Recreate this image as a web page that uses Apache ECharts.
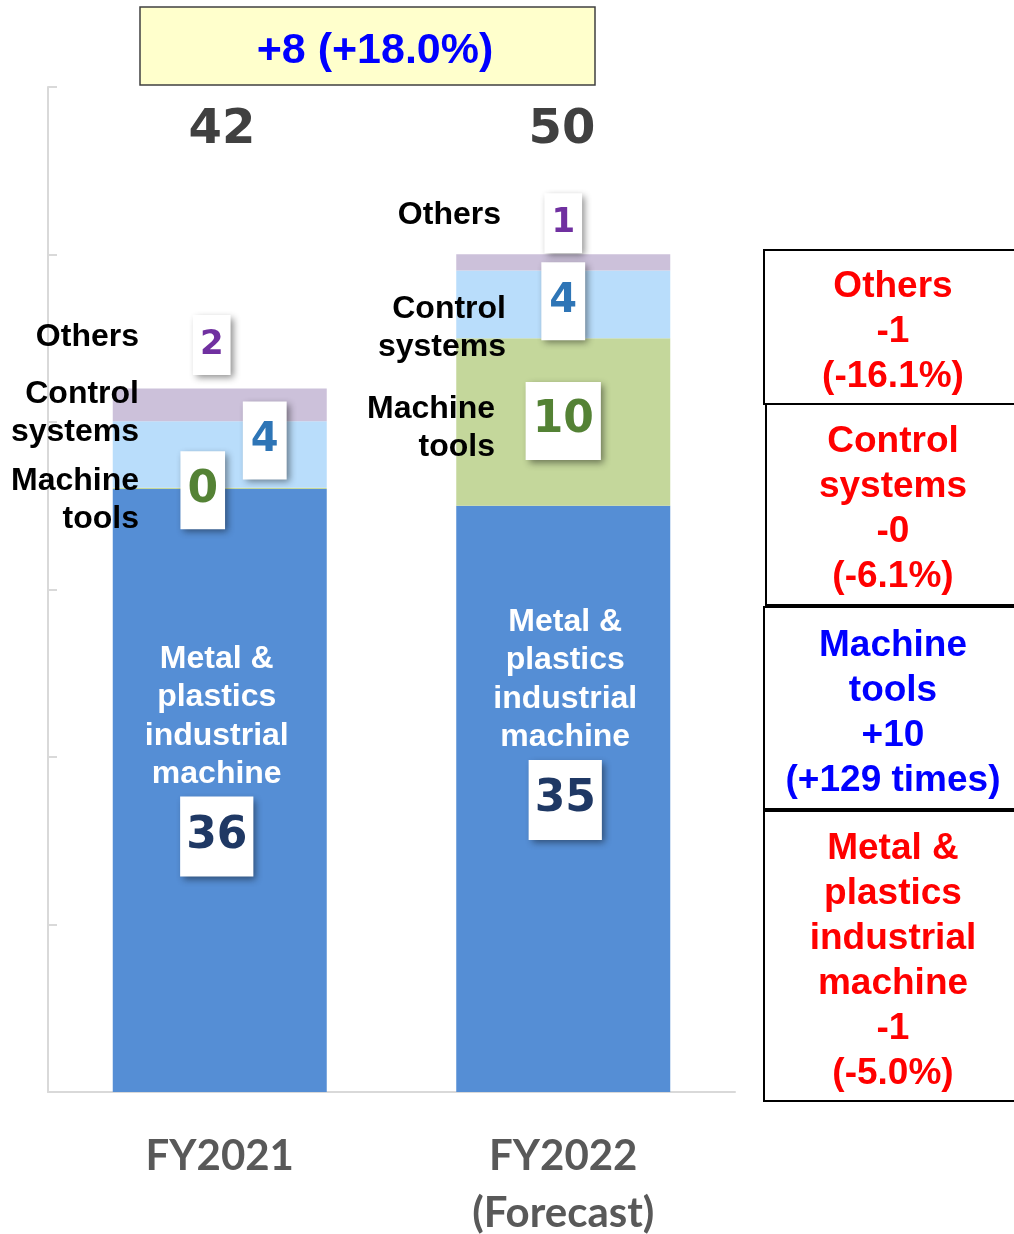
<!DOCTYPE html>
<html>
<head>
<meta charset="UTF-8"/>
<title>Sales by segment</title>
<script src="https://cdn.jsdelivr.net/npm/echarts@6/dist/echarts.min.js"></script>
<style>
  html, body { margin: 0; padding: 0; background: #fff; }
  #chart { width: 1014px; height: 1234px; }
</style>
</head>
<body>
<div id="chart"></div>
<script>
// categories and segment values
var years = ['FY2021', 'FY2022\n(Forecast)'];
var metal = [36.0, 35.0];
var machineTools = [0.08, 10.0];
var controlSystems = [3.96, 4.05];
var others = [1.96, 0.97];
var yTicks = [0, 10, 20, 30, 40, 50, 60];

// change boxes on the right
var changeNotes = [
  { text: 'Others\n-1\n(-16.1%)', color: '#ff0000' },
  { text: 'Control\nsystems\n-0\n(-6.1%)', color: '#ff0000' },
  { text: 'Machine\ntools\n+10\n(+129 times)', color: '#0000ff' },
  { text: 'Metal &\nplastics\nindustrial\nmachine\n-1\n(-5.0%)', color: '#ff0000' }
];
var totalChange = '+8 (+18.0%)';

var totals = years.map(function (y, i) {
  return Math.round(metal[i] + machineTools[i] + controlSystems[i] + others[i]);
});

var numFont = 'DejaVu Sans';
var txtFont = '"Liberation Sans", Arial, sans-serif';

function boxLabel(color, size, pad, lh) {
  return {
    show: true,
    position: 'inside',
    formatter: function (p) { return String(Math.round(p.value)); },
    color: color,
    fontFamily: numFont,
    fontWeight: 'bold',
    fontSize: size,
    lineHeight: lh,
    backgroundColor: '#fff',
    padding: pad,
    shadowBlur: 7,
    shadowColor: 'rgba(0,0,0,0.45)',
    shadowOffsetX: 3,
    shadowOffsetY: 3
  };
}

function withOffsets(vals, offs) {
  return vals.map(function (v, i) {
    return { value: v, label: { offset: offs[i] } };
  });
}

var myChart = echarts.init(document.getElementById('chart'));

var graphics = [];
// yellow total change box
graphics.push({
  type: 'rect', z: 100, shape: { x: 140, y: 7, width: 455, height: 78 },
  style: { fill: '#ffffcc', stroke: '#404040', lineWidth: 1.5 }
});
graphics.push({
  type: 'text', z: 101, x: 375, y: 51,
  style: { text: totalChange, fill: '#0000ff', font: 'bold 43px ' + txtFont, textAlign: 'center', textVerticalAlign: 'middle' }
});
// totals above bars
[222, 562].forEach(function (x, i) {
  graphics.push({
    type: 'text', z: 100, x: x, y: 131,
    style: { text: String(totals[i]), fill: '#404040', font: 'bold 48px "' + numFont + '"', textAlign: 'center', textVerticalAlign: 'middle' }
  });
});
// segment names beside the bars
var sideNames = [
  { t: 'Others', x: 139, y: 337 },
  { t: 'Control\nsystems', x: 139, y: 413 },
  { t: 'Machine\ntools', x: 139, y: 500 },
  { t: 'Others', x: 501, y: 215 },
  { t: 'Control\nsystems', x: 506, y: 328 },
  { t: 'Machine\ntools', x: 495, y: 428 }
];
sideNames.forEach(function (s) {
  graphics.push({
    type: 'text', z: 100, x: s.x, y: s.y,
    style: { text: s.t, fill: '#000', font: 'bold 32px ' + txtFont, lineHeight: 38, textAlign: 'right', textVerticalAlign: 'middle' }
  });
});
// change boxes
var boxes = [[764, 250, 404], [766, 404, 605], [764, 607, 809], [764, 811, 1101]];
boxes.forEach(function (b, i) {
  graphics.push({
    type: 'rect', z: 100, shape: { x: b[0], y: b[1], width: 280, height: b[2] - b[1] },
    style: { fill: '#fff', stroke: '#000', lineWidth: 2 }
  });
  graphics.push({
    type: 'text', z: 101, x: 893, y: (b[1] + b[2]) / 2 + 5,
    style: { text: changeNotes[i].text, fill: changeNotes[i].color, font: 'bold 37px ' + txtFont, lineHeight: 45, textAlign: 'center', textVerticalAlign: 'middle' }
  });
});

var option = {
  animation: false,
  grid: { left: 48, width: 687, top: 87, height: 1005, containLabel: false, outerBoundsMode: 'none' },
  xAxis: {
    type: 'category',
    data: years,
    axisLine: { lineStyle: { color: '#d9d9d9', width: 2 } },
    axisTick: { show: false },
    axisLabel: {
      color: '#595959', fontFamily: 'Lato', fontWeight: 'bold', fontSize: 42,
      lineHeight: 57, margin: 36, verticalAlign: 'top'
    }
  },
  yAxis: {
    type: 'value', min: yTicks[0], max: yTicks[yTicks.length - 1], interval: 10,
    axisLine: { show: true, lineStyle: { color: '#d9d9d9', width: 2 } },
    axisTick: { show: true, inside: true, length: 9, lineStyle: { color: '#d9d9d9', width: 2 } },
    axisLabel: { show: false },
    splitLine: { show: false }
  },
  series: [
    {
      name: 'Metal & plastics industrial machine', type: 'bar', stack: 'all', barWidth: 214,
      itemStyle: { color: '#558ed5' },
      label: {
        show: true, position: 'inside', align: 'center',
        formatter: function (p) {
          return '{n|Metal &}\n{n|plastics}\n{n|industrial}\n{n|machine}\n{s| }\n{b|' + Math.round(p.value) + '}';
        },
        rich: {
          n: { color: '#fff', fontFamily: txtFont, fontWeight: 'bold', fontSize: 32, lineHeight: 38.5 },
          s: { fontSize: 1, lineHeight: 18 },
          b: {
            color: '#1f3864', fontFamily: numFont, fontWeight: 'bold', fontSize: 44, lineHeight: 50,
            backgroundColor: '#fff', padding: [18, 6],
            shadowBlur: 7, shadowColor: 'rgba(0,0,0,0.45)', shadowOffsetX: 3, shadowOffsetY: 3
          }
        }
      },
      data: withOffsets(metal, [[-3, -40], [2, -85]])
    },
    {
      name: 'Machine tools', type: 'bar', stack: 'all',
      itemStyle: { color: '#c4d79b' },
      label: boxLabel('#548235', 44, [14, 7], 50),
      data: withOffsets(machineTools, [[-17, 2], [0, -1]])
    },
    {
      name: 'Control systems', type: 'bar', stack: 'all',
      itemStyle: { color: '#b9ddfb' },
      label: boxLabel('#2e75b6', 40, [15, 8], 48),
      data: withOffsets(controlSystems, [[45, -14], [0, -3]])
    },
    {
      name: 'Others', type: 'bar', stack: 'all',
      itemStyle: { color: '#ccc1da' },
      label: boxLabel('#7030a0', 34, [10, 7], 40),
      data: withOffsets(others, [[-8, -60], [0, -39]])
    }
  ],
  graphic: graphics
};

myChart.setOption(option);
</script>
</body>
</html>
